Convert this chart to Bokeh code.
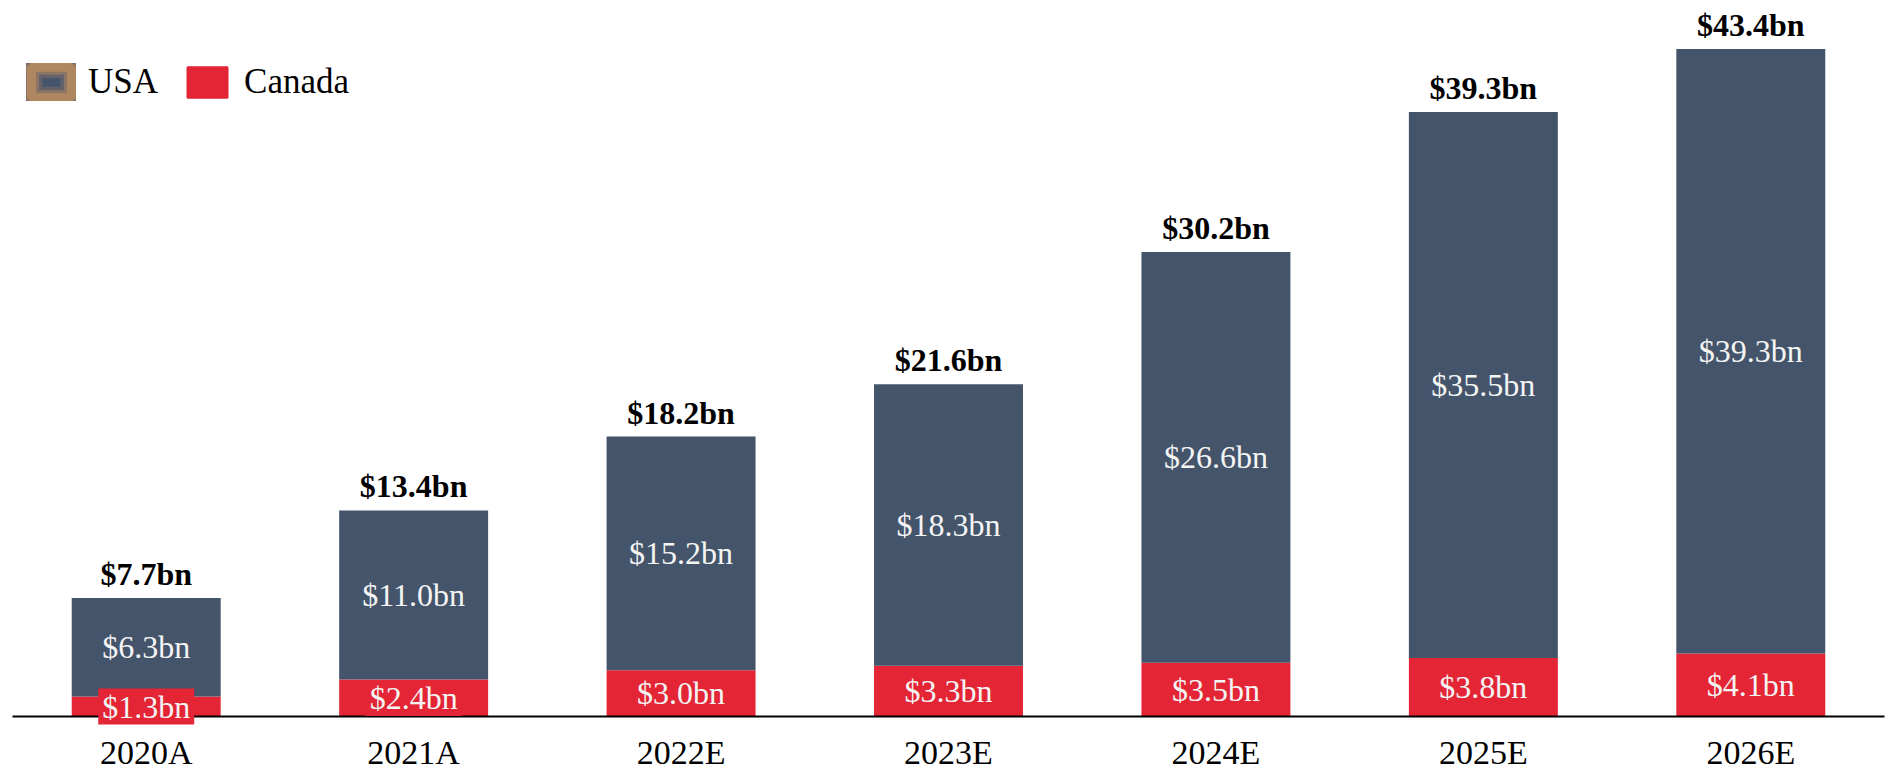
from bokeh.plotting import figure
from bokeh.models import ColumnDataSource, FactorRange, Range1d, Legend, LegendItem
from bokeh.core.properties import value
from bokeh.embed import file_html
from bokeh.resources import INLINE

years = ["2020A", "2021A", "2022E", "2023E", "2024E", "2025E", "2026E"]
usa = [6.3, 11.0, 15.2, 18.3, 26.6, 35.5, 39.3]
canada = [1.3, 2.4, 3.0, 3.3, 3.5, 3.8, 4.1]
totals = [7.7, 13.4, 18.2, 21.6, 30.2, 39.3, 43.4]

USA_COLOR = "#44546a"
CAN_COLOR = "#e42535"
FONT = "Liberation Serif"

src = ColumnDataSource(dict(
    year=years,
    usa=usa,
    canada=canada,
    total=totals,
    usa_mid=[(c + t) / 2 for c, t in zip(canada, totals)],
    can_mid=[c / 2 for c in canada],
    usa_lbl=["$%.1fbn" % v for v in usa],
    can_lbl=["$%.1fbn" % v for v in canada],
    tot_lbl=["$%.1fbn" % v for v in totals],
))

p = figure(x_range=FactorRange(factors=years), y_range=Range1d(0, 46.03),
           width=1896, height=776, output_backend="svg", toolbar_location=None,
           min_border_left=12, min_border_right=12, min_border_top=8, min_border_bottom=60,
           y_axis_location=None, outline_line_color=None, background_fill_color="white")

p.xgrid.grid_line_color = None
p.ygrid.grid_line_color = None

bar_w = 0.557
p.vbar(x="year", bottom=0, top="canada", width=bar_w, source=src,
       fill_color=CAN_COLOR, line_color=None)
p.vbar(x="year", bottom="canada", top="total", width=bar_w, source=src,
       fill_color=USA_COLOR, line_color=None)

# labels
p.text(x="year", y="total", text="tot_lbl", source=src,
       text_font=value(FONT), text_font_style="bold", text_font_size="32px",
       text_align="center", text_baseline="alphabetic", y_offset=-24, text_color="black")
p.text(x="year", y="usa_mid", text="usa_lbl", source=src,
       text_font=value(FONT), text_font_size="32px",
       text_align="center", text_baseline="middle", text_color="#f4f4f4")
can_txt = p.text(x="year", y="can_mid", text="can_lbl", source=src,
                 text_font=value(FONT), text_font_size="32px",
                 text_align="center", text_baseline="middle", text_color="#f4f4f4",
                 background_fill_color=CAN_COLOR,
                 padding=dict(left=4, right=4, top=0, bottom=0))
can_txt.level = "overlay"

# legend swatches (hidden renderers, used only for the legend)
dummy = ColumnDataSource(dict(x=[years[0]], bottom=[0.0], top=[1.0]))
u1 = p.vbar(x="x", bottom="bottom", top="top", width=0.5, source=dummy,
            fill_color=USA_COLOR, line_color="#63626a", line_width=22, visible=False)
u2 = p.vbar(x="x", bottom="bottom", top="top", width=0.5, source=dummy,
            fill_color=None, line_color="#8c7564", line_width=15, visible=False)
u3 = p.vbar(x="x", bottom="bottom", top="top", width=0.5, source=dummy,
            fill_color=None, line_color="#ae8761", line_width=9, visible=False)
c1 = p.vbar(x="x", bottom="bottom", top="top", width=0.5, source=dummy,
            fill_color=CAN_COLOR, line_color=CAN_COLOR, line_width=2, visible=False)

legend = Legend(items=[LegendItem(label="USA", renderers=[u1, u2, u3]),
                       LegendItem(label="Canada", renderers=[c1])],
                orientation="horizontal", location=(14, 614),
                glyph_width=50, glyph_height=38, label_height=38,
                label_standoff=12, spacing=24, padding=0, margin=0,
                label_text_font=FONT, label_text_font_size="35px",
                label_text_color="black", border_line_color=None,
                background_fill_alpha=0, inactive_fill_alpha=0)
p.add_layout(legend)

ax = p.xaxis[0]
ax.axis_line_color = "black"
ax.axis_line_width = 2
ax.major_tick_line_color = None
ax.minor_tick_line_color = None
ax.major_tick_out = 0
ax.major_tick_in = 0
ax.major_label_standoff = 17
ax.major_label_text_font = FONT
ax.major_label_text_font_size = "34px"
ax.major_label_text_color = "black"

open("out.html", "w").write(file_html(p, INLINE))
